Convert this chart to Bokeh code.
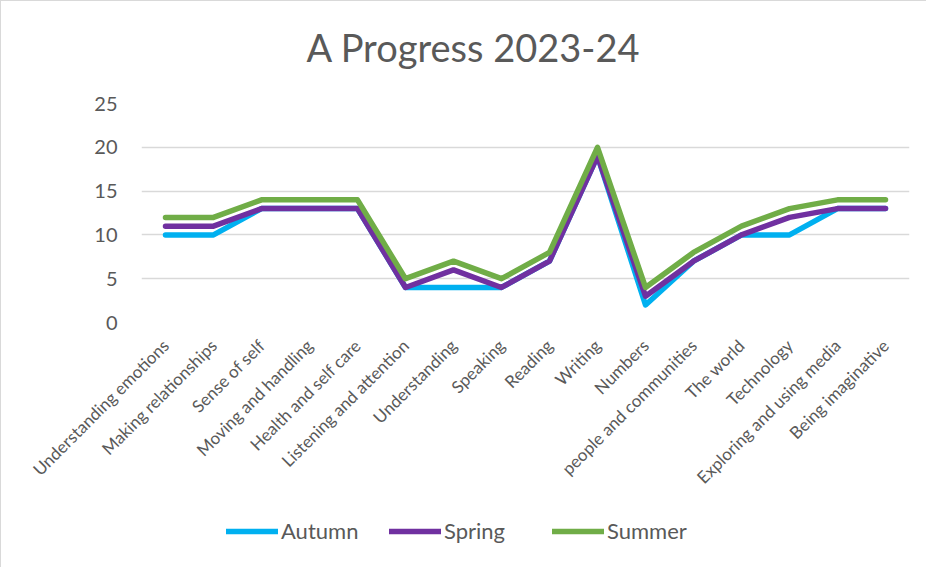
import math
from bokeh.plotting import figure
from bokeh.layouts import column
from bokeh.models import Legend, LegendItem, ColumnDataSource, Div
from bokeh.embed import file_html
from bokeh.resources import INLINE

title_text = "A Progress 2023-24"
categories = ["Understanding emotions", "Making relationships", "Sense of self",
              "Moving and handling", "Health and self care", "Listening and attention",
              "Understanding", "Speaking", "Reading", "Writing", "Numbers",
              "people and communities", "The world", "Technology",
              "Exploring and using media", "Being imaginative"]
autumn = [10, 10, 13, 13, 13, 4, 4, 4, 7, 19, 2, 7, 10, 10, 13, 13]
spring = [11, 11, 13, 13, 13, 4, 6, 4, 7, 19, 3, 7, 10, 12, 13, 13]
summer = [12, 12, 14, 14, 14, 5, 7, 5, 8, 20, 4, 8, 11, 13, 14, 14]
series_names = ["Autumn", "Spring", "Summer"]
series_colors = ["#00B0F0", "#7030A0", "#70AD47"]
y_ticks = [0, 5, 10, 15, 20, 25]

FONT = "Lato"
TXT = "#595959"
LW = 5.5

title = Div(text=('<div style="width:926px;padding-left:18px;box-sizing:border-box;'
                  'text-align:center;padding-top:24px;margin:0;'
                  'font-family:Lato;font-size:38px;line-height:1.2;color:#595959;">'
                  + title_text + '</div>'),
            width=926, height=90, margin=0)

p = figure(x_range=categories, y_range=(0, 25), width=926, height=410,
           output_backend="svg", toolbar_location=None,
           min_border_left=140, min_border_right=18, min_border_top=12,
           min_border_bottom=179)
p.outline_line_color = None

for name, vals, col in zip(series_names, [autumn, spring, summer], series_colors):
    src = ColumnDataSource(dict(x=categories, y=vals))
    p.line("x", "y", source=src, line_color=col, line_width=LW,
           line_cap="round", line_join="round")

p.xgrid.grid_line_color = None
p.ygrid.grid_line_color = "#d9d9d9"
p.ygrid.grid_line_width = 1.5
p.yaxis.ticker = y_ticks

for ax in (p.xaxis[0], p.yaxis[0]):
    ax.axis_line_color = None
    ax.major_tick_line_color = None
    ax.minor_tick_line_color = None
    ax.major_label_text_font = FONT
    ax.major_label_text_color = TXT

p.yaxis.major_label_text_font_size = "20px"
p.yaxis.major_label_standoff = 18
p.xaxis.major_label_text_font_size = "17px"
p.xaxis.major_label_orientation = math.pi / 4
p.xaxis.major_label_standoff = 14

# legend strip below the chart (its frame is aligned with the chart's frame)
lf = figure(width=926, height=67, output_backend="svg", toolbar_location=None,
            min_border=0, x_range=(0, 1), y_range=(0, 1))
lf.axis.visible = False
lf.grid.visible = False
lf.outline_line_color = None
items = []
for name, col in zip(series_names, series_colors):
    r = lf.line(x=[float("nan")], y=[float("nan")], line_color=col,
                line_width=LW, line_cap="round")
    items.append(LegendItem(label=name, renderers=[r]))
legend = Legend(items=items, orientation="horizontal", location=(85, 24),
                glyph_width=52, glyph_height=20, label_standoff=3, spacing=28,
                label_width=80, padding=0, margin=0, border_line_color=None,
                background_fill_alpha=0, label_text_font=FONT,
                label_text_font_size="22px", label_text_color=TXT)
lf.add_layout(legend, "center")

layout = column(title, p, lf, spacing=0)
layout.styles = {"border-left": "1px solid #d9d9d9", "border-top": "1px solid #d9d9d9",
                 "border-bottom": "1px solid #d9d9d9"}

open("out.html", "w").write(file_html(layout, INLINE))
